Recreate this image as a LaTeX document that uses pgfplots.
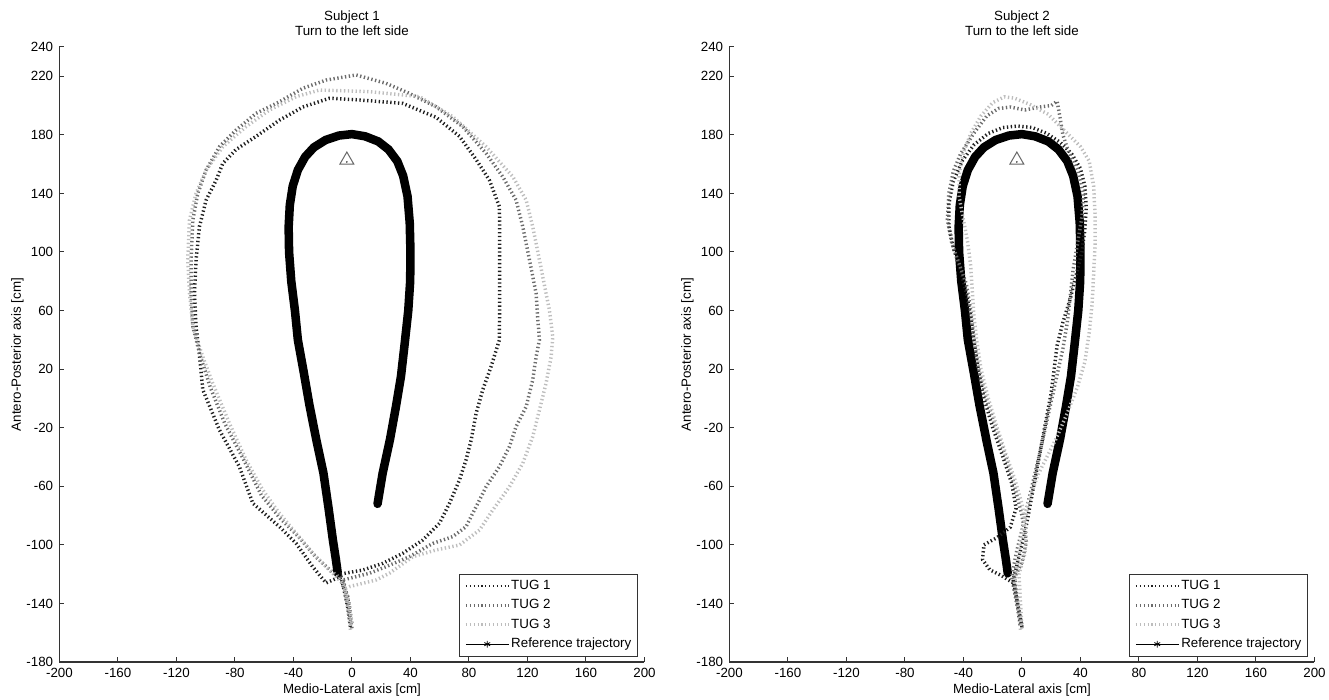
\documentclass[border=0pt]{standalone}
\usepackage{fontspec}
\setmainfont{Liberation Sans}
\usepackage{pgfplots}
\pgfplotsset{compat=1.18}

\definecolor{tugA}{gray}{0.12}
\definecolor{tugB}{gray}{0.42}
\definecolor{tugC}{gray}{0.74}

% 1 px of the reference = 0.75pt
\pgfplotsset{
  tugplot/.style={
    width=438.75pt, height=461.25pt, scale only axis,
    xmin=-200, xmax=200, ymin=-180, ymax=240,
    axis lines*=left,
    axis line style={line width=0.75pt, black!80},
    tick align=inside, major tick length=3.75pt,
    tick style={line width=0.75pt, black!80},
    xtick={-200,-160,...,200},
    ytick={-180,-140,-100,-60,-20,20,60,100,140,180,220,240},
    /pgf/number format/assume math mode=true,
    ticklabel style={font=\fontsize{10}{12}\selectfont},
    xticklabel style={yshift=-1pt},
    yticklabel style={xshift=-1.2pt},
    xlabel={Medio-Lateral axis [cm]},
    ylabel={Antero-Posterior axis [cm]},
    label style={font=\fontsize{10}{12}\selectfont},
    xlabel style={at={(axis description cs:0.5,-0.052)}, anchor=base},
    ylabel style={at={(axis description cs:-0.0658,0.5)}, anchor=base},
    title style={at={(axis description cs:0.5,1)}, anchor=south, inner sep=0pt,
      yshift=2pt, align=center, font=\fontsize{10}{11.5}\selectfont},
    legend image code/.code={\draw[#1] (0pt,0pt) -- (32pt,0pt);},
    legend style={at={(rel axis cs:1,0)}, anchor=south east, xshift=-4.5pt, yshift=4pt,
      draw=black!80, line width=0.75pt, fill=white, inner xsep=4pt, inner ysep=3pt,
      row sep=2.5pt, cells={anchor=west},
      nodes={inner sep=1pt, text height=7.5pt, text depth=2.5pt,
        font=\fontsize{10}{12}\selectfont}},
  },
  refline/.style={black, line width=6.4pt, line join=round, line cap=round, forget plot},
  tugdots/.style={line width=2.6pt, dash pattern=on 1pt off 1.9pt, line join=round, forget plot},
  legdots/.style={line width=2pt, dash pattern=on 0.9pt off 2pt},
  startmark/.style={only marks, mark=triangle, mark size=6pt,
    mark options={draw=black!60, fill=white, line width=0.75pt}, forget plot},
}

\newcommand{\reflegend}{%
  \addlegendimage{legend image code/.code={%
    \draw[black, line width=0.75pt] (0pt,0pt) -- (32pt,0pt);
    \draw[black, line width=0.6pt] plot[mark=asterisk, mark size=2.5pt] coordinates {(16pt,0pt)};}}
  \addlegendentry{Reference trajectory}}

\begin{document}
\begin{tikzpicture}
\useasboundingbox (0,0) rectangle (996.75pt,525pt);

% ---------------- Subject 1 ----------------
\begin{axis}[tugplot, at={(44.6pt,28.5pt)}, anchor=south west,
  title={Subject 1\\Turn to the left side}]

\addplot[refline] coordinates {
 (17.5,-72) (21,-51) (26,-28) (30,-6) (33.5,15) (36,37) (38.5,60) (39.8,80)
 (40,100) (39.5,120) (38,138) (35,152) (31,162) (25,170) (18,175.5) (9,179)
 (0,180.5) (-9,179.5) (-18,176.5) (-26,171.5) (-32,165) (-37,156) (-40.5,145)
 (-42.5,132) (-43.3,117) (-43,100) (-41.5,80) (-39,60) (-37,40) (-33,18)
 (-29,-5) (-24,-30) (-19.5,-51) (-16,-75) (-13,-97) (-11,-110) (-9.7,-119.4)
};

\addplot[tugA, tugdots] coordinates {
 (-1,-156) (-3,-142) (-6,-128) (-8,-120) (7.4,-117.2) (21.1,-112.6) (34.7,-105.8)
 (48.4,-96.7) (59.8,-85.3) (66.7,-71.6) (73.5,-55.7) (78,-42) (81.5,-28.4)
 (84.9,-10.2) (89.4,5.8) (95.1,21.7) (100.8,39.9) (101,72) (101,117) (100.8,131)
 (94,149) (85,163) (73.5,179) (57.5,192) (34.7,201.5) (2.8,204) (-15.4,205)
 (-33.6,199) (-49.6,190) (-65.5,179) (-79.2,170) (-88.3,160.5) (-92.9,149)
 (-99.7,135.5) (-104.3,117.3) (-106.6,94.5) (-107.7,71.8) (-106.6,49) (-104.3,30)
 (-102,6) (-90.6,-21.6) (-77,-46.6) (-67.8,-71.6) (-49.6,-87.6) (-38.2,-99)
 (-26.8,-115) (-17.7,-126) (-8.6,-122) (-3,-135) (-1,-150)
};

\addplot[tugB, tugdots] coordinates {
 (0,-157) (-3,-140) (-6.3,-124) (12,-119.4) (23.3,-114.9) (39.3,-108.1)
 (55.3,-99) (68.9,-94.4) (78,-87.6) (84.9,-73.9) (91.7,-60.3) (100.8,-46.6)
 (107.7,-32.9) (112.2,-19.3) (119.1,-5.6) (123.6,12.6) (125.9,28.5) (128.2,39.9)
 (127,55) (125.9,71.8) (121.4,94.5) (116.8,117.3) (112.2,135.5) (103.1,151.4)
 (91.7,167.4) (75.8,185.6) (57.5,199.2) (39.3,208.3) (23.3,215.2) (2.8,220.9)
 (-17.7,217.4) (-33.6,211.8) (-49.6,202.6) (-65.5,194.7) (-79.2,183.3)
 (-90.6,171.9) (-99.7,156) (-105.4,140) (-108.8,121.8) (-110,94.5) (-110,71.8)
 (-108.8,49) (-104,30) (-97,8) (-87,-17) (-74,-42) (-62,-66) (-49,-82)
 (-36,-95) (-25,-108) (-14,-118) (-6,-124) (-2,-140) (0,-154)
};

\addplot[tugC, tugdots] coordinates {
 (-1,-158) (-3,-143) (-5,-130) (-1.7,-128.5) (16.5,-124) (25.6,-119.4)
 (41.6,-108.1) (57.5,-103.5) (73.5,-100.1) (87.2,-89.9) (96.3,-76.2)
 (107.7,-60.3) (116.8,-44.3) (123.6,-26.1) (128.2,-7.9) (132.7,10.3)
 (136.2,28.5) (137.3,42) (135,60.4) (132.7,71.8) (128.2,94.5) (123.6,117.3)
 (119.1,135.5) (110,151.4) (91.7,171.9) (68.9,192.4) (46.1,206.1) (12,209.5)
 (-22.2,210.6) (-38.2,206.1) (-56.4,197) (-72.4,185.6) (-88.3,171.9)
 (-99.7,156) (-106.6,140) (-111.1,121.8) (-112.3,94.5) (-111.1,71.8)
 (-108.8,49) (-102,28.5) (-95.2,10.3) (-83.8,-17) (-72.4,-42) (-61,-62.5)
 (-49.6,-78.5) (-38.2,-92.1) (-26.8,-105.8) (-15.4,-117.2) (-6.3,-126.3)
 (-2,-140) (0,-155)
};

\addplot[startmark] coordinates {(-3.5,162.8)};
\addplot[only marks, mark=*, mark size=0.4pt, black!70, forget plot] coordinates {(-3.5,161.5)};

\addlegendimage{tugA, legdots}\addlegendentry{TUG 1}
\addlegendimage{tugB, legdots}\addlegendentry{TUG 2}
\addlegendimage{tugC, legdots}\addlegendentry{TUG 3}
\reflegend
\end{axis}

% ---------------- Subject 2 ----------------
\begin{axis}[tugplot, at={(547.1pt,28.5pt)}, anchor=south west,
  title={Subject 2\\Turn to the left side}]

\addplot[refline] coordinates {
 (17.5,-72) (21,-51) (26,-28) (30,-6) (33.5,15) (36,37) (38.5,60) (39.8,80)
 (40,100) (39.5,120) (38,138) (35,152) (31,162) (25,170) (18,175.5) (9,179)
 (0,180.5) (-9,179.5) (-18,176.5) (-26,171.5) (-32,165) (-37,156) (-40.5,145)
 (-42.5,132) (-43.3,117) (-43,100) (-41.5,80) (-39,60) (-37,40) (-33,18)
 (-29,-5) (-24,-30) (-19.5,-51) (-16,-75) (-13,-97) (-11,-110) (-9.7,-119.4)
};

\addplot[tugA, tugdots] coordinates {
 (0,-156) (-3,-140) (-6,-124) (-2,-108) (2,-92) (5,-76) (8,-60) (11,-44)
 (14,-28) (17,-12) (20,4) (22,20) (24,36) (28,52) (33,68) (37,84) (41,100)
 (43,115) (44,130) (43,145) (40,157) (34,167) (26,175) (17,181) (7,185)
 (-3,186) (-13,185) (-23,181) (-33,173) (-41,162) (-47,148) (-50,133)
 (-50,118) (-47,103) (-42,88) (-38,72) (-35,56) (-33,40) (-30,20) (-26,0)
 (-20,-20) (-13,-40) (-7,-58) (-4,-75) (-8,-88) (-17,-95) (-26,-100)
 (-27,-110) (-22,-117) (-14,-121) (-6,-126) (-3,-142) (-1,-156)
};

\addplot[tugB, tugdots] coordinates {
 (0,-157) (-4,-138) (-7,-122) (-4,-106) (0,-90) (4,-72) (8,-55) (12,-38)
 (16,-20) (20,-2) (24,16) (28,34) (31,52) (33,70) (35,88) (38,106) (41,124)
 (42,140) (38,156) (32,168) (28,180) (26,192) (24,203) (20,200) (12,199)
 (2,197) (-8,199) (-16,198) (-24,193) (-33,181) (-42,167) (-47,155) (-50,140)
 (-51,122) (-48,106) (-43,92) (-38,78) (-35,60) (-33,42) (-30,22) (-25,2)
 (-18,-20) (-11,-40) (-5,-60) (0,-80) (3,-98) (0,-112) (-5,-122) (-3,-140)
 (0,-155)
};

\addplot[tugC, tugdots] coordinates {
 (-1,-158) (-3,-142) (-5,-126) (-3,-112) (-1,-98) (2,-82) (6,-66) (11,-52)
 (17,-40) (24,-26) (31,-10) (38,8) (43,25) (46,45) (48,65) (49,85) (50,105)
 (50,125) (49,145) (46,162) (40,172) (30,182) (18,194) (5,201) (-5,205)
 (-12,206) (-20,202) (-28,193) (-35,181) (-40,168) (-43,153) (-43,138)
 (-40,122) (-37,106) (-35,90) (-34,74) (-33,58) (-31,40) (-28,20) (-23,0)
 (-17,-20) (-11,-38) (-5,-55) (0,-72) (3,-90) (2,-106) (-2,-120) (-1,-140)
 (0,-157)
};

\addplot[startmark] coordinates {(-3.5,162.8)};
\addplot[only marks, mark=*, mark size=0.4pt, black!70, forget plot] coordinates {(-3.5,161.5)};

\addlegendimage{tugA, legdots}\addlegendentry{TUG 1}
\addlegendimage{tugB, legdots}\addlegendentry{TUG 2}
\addlegendimage{tugC, legdots}\addlegendentry{TUG 3}
\reflegend
\end{axis}
\end{tikzpicture}
\end{document}
